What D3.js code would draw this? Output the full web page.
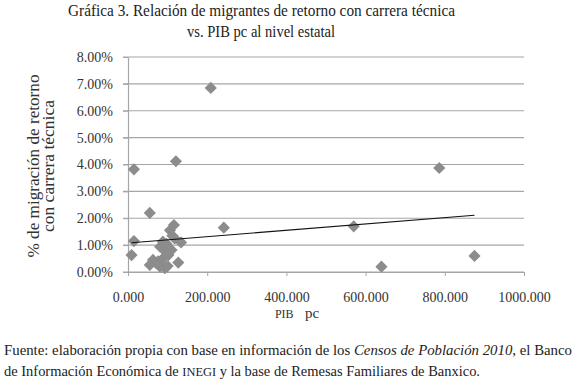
<!DOCTYPE html>
<html>
<head>
<meta charset="utf-8">
<script src="https://cdn.jsdelivr.net/npm/d3@7"></script>
<style>
  body { margin: 0; background: #fff; }
</style>
</head>
<body>
<div id="chart"></div>
<script>
// PIB per capita (x) and % of return migrants with technical degree (y), one per state
const pibPc = [9, 15, 15, 55, 55, 63, 72, 76, 81, 81, 84, 88, 88, 93, 95, 97, 100, 102, 106, 110, 112, 116, 118, 121, 127, 134, 209, 242, 570, 640, 786, 875];
const migPct = [0.63, 1.15, 3.82, 2.2, 0.26, 0.45, 0.32, 0.4, 0.2, 0.94, 0.28, 1.13, 0.5, 0.14, 0.75, 1.05, 0.22, 0.63, 1.55, 0.82, 1.35, 1.75, 1.25, 4.12, 0.35, 1.1, 6.85, 1.65, 1.7, 0.2, 3.87, 0.6];

// linear trend line endpoints as drawn in the source
const trendX = [9, 875];
const trendY = [1.09, 2.11];

const xTicks = [0, 200, 400, 600, 800, 1000];
const yTicks = [0, 1, 2, 3, 4, 5, 6, 7, 8];

const W = 577, H = 381;
const plot = { left: 128, right: 524, top: 57, bottom: 272 };
const serif = "'Liberation Serif', 'Times New Roman', serif";

const svg = d3.select("#chart")
    .append("svg")
    .attr("width", W)
    .attr("height", H)
    .attr("font-family", serif);

const x = d3.scaleLinear().domain([0, 1000]).range([plot.left, plot.right]);
const y = d3.scaleLinear().domain([0, 8]).range([plot.bottom, plot.top]);

// title
svg.append("text")
    .attr("x", 68).attr("y", 16)
    .attr("font-size", 16).attr("fill", "#222")
    .attr("textLength", 387).attr("lengthAdjust", "spacingAndGlyphs")
    .text("Gráfica 3. Relación de migrantes de retorno con carrera técnica");
svg.append("text")
    .attr("x", 187).attr("y", 37)
    .attr("font-size", 16).attr("fill", "#222")
    .attr("textLength", 148).attr("lengthAdjust", "spacingAndGlyphs")
    .text("vs. PIB pc al nivel estatal");

// gridlines
svg.append("g")
    .selectAll("line")
    .data(yTicks)
    .join("line")
    .attr("x1", plot.left - 5)
    .attr("x2", plot.right)
    .attr("y1", d => y(d))
    .attr("y2", d => y(d))
    .attr("stroke", "#a6a6a6")
    .attr("stroke-width", 1.2);

// y axis
const yAxis = svg.append("g")
    .attr("transform", `translate(${plot.left},0)`)
    .call(d3.axisLeft(y).tickValues(yTicks).tickSize(5).tickSizeOuter(0).tickPadding(10)
        .tickFormat(d => d.toFixed(2) + "%"))
    .attr("font-family", serif)
    .attr("font-size", 14);
yAxis.select(".domain").attr("stroke", "#a6a6a6").attr("stroke-width", 1.2);
yAxis.selectAll(".tick line").attr("stroke", "#a6a6a6");
yAxis.selectAll("text").attr("fill", "#333");

// x axis
const xAxis = svg.append("g")
    .attr("transform", `translate(0,${plot.bottom})`)
    .call(d3.axisBottom(x).tickValues(xTicks).tickSize(4).tickSizeOuter(0).tickPadding(16)
        .tickFormat(d3.format(".3f")))
    .attr("font-family", serif)
    .attr("font-size", 14);
xAxis.select(".domain").attr("stroke", "#a6a6a6").attr("stroke-width", 1.2);
xAxis.selectAll(".tick line").attr("stroke", "#a6a6a6");
xAxis.selectAll("text").attr("fill", "#333");

// axis titles
const yTitle = svg.append("g")
    .attr("transform", "translate(0,166) rotate(-90)")
    .attr("text-anchor", "middle")
    .attr("font-size", 16)
    .attr("fill", "#333");
yTitle.append("text").attr("x", 0).attr("y", 39)
    .attr("textLength", 183).attr("lengthAdjust", "spacingAndGlyphs")
    .text("% de migración de retorno");
yTitle.append("text").attr("x", 0).attr("y", 54)
    .attr("textLength", 132).attr("lengthAdjust", "spacingAndGlyphs")
    .text("con carrera técnica");

svg.append("text")
    .attr("x", 297)
    .attr("y", 318)
    .attr("text-anchor", "middle")
    .attr("font-size", 15)
    .attr("fill", "#333")
    .attr("xml:space", "preserve")
    .html('<tspan font-size="12">PIB</tspan>   pc');

// points
const pts = pibPc.map((v, i) => ({ x: v, y: migPct[i] }));
svg.append("g")
    .selectAll("path")
    .data(pts)
    .join("path")
    .attr("d", d3.symbol().type(d3.symbolSquare).size(74))
    .attr("transform", d => `translate(${x(d.x)},${y(d.y)}) rotate(45)`)
    .attr("fill", "#8c8c8c");

// trend line
svg.append("line")
    .attr("x1", x(trendX[0]))
    .attr("y1", y(trendY[0]))
    .attr("x2", x(trendX[1]))
    .attr("y2", y(trendY[1]))
    .attr("stroke", "#111")
    .attr("stroke-width", 1.1);

// source note
const note1 = svg.append("text")
    .attr("x", 4).attr("y", 355)
    .attr("font-size", 14).attr("fill", "#222")
    .attr("textLength", 568).attr("lengthAdjust", "spacingAndGlyphs");
note1.append("tspan").text("Fuente: elaboración propia con base en información de los ");
note1.append("tspan").attr("font-style", "italic").text("Censos de Población 2010");
note1.append("tspan").text(", el Banco");

svg.append("text")
    .attr("x", 4).attr("y", 376)
    .attr("font-size", 14).attr("fill", "#222")
    .attr("textLength", 476).attr("lengthAdjust", "spacingAndGlyphs")
    .html('de Información Económica de <tspan font-size="12">INEGI</tspan> y la base de Remesas Familiares de Banxico.');
</script>
</body>
</html>
